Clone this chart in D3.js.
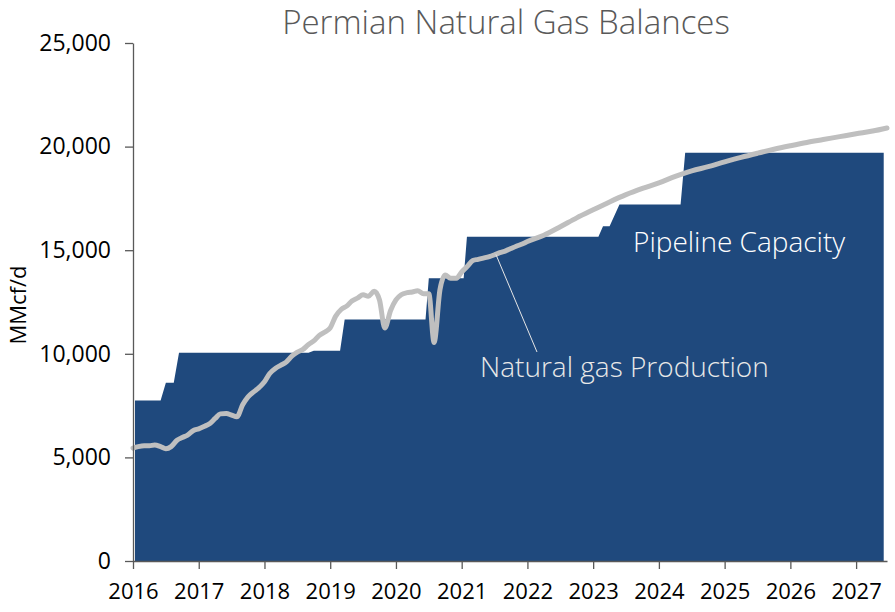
<!DOCTYPE html>
<html>
<head>
<meta charset="utf-8">
<script src="https://cdn.jsdelivr.net/npm/d3@7"></script>
<style>
  body { margin: 0; background: #fff; }
  svg text { font-family: "Open Sans", "Noto Sans", sans-serif; }
</style>
</head>
<body>
<svg id="chart" width="895" height="612"></svg>
<script>
// Pipeline capacity breakpoints (decimal year, MMcf/d)
const capYears  = [2016.03, 2016.42, 2016.50, 2016.62, 2016.70, 2018.67, 2018.75, 2019.15, 2019.22,
                   2020.45, 2020.50, 2021.03, 2021.08, 2023.08, 2023.15, 2023.25, 2023.40, 2024.33,
                   2024.40, 2027.42];
const capValues = [7750, 7750, 8600, 8600, 10050, 10050, 10150, 10150, 11650,
                   11650, 13650, 13650, 15650, 15650, 16150, 16150, 17200, 17200,
                   19700, 19700];

// Natural gas production (decimal year, MMcf/d)
const prodYears = [2016.00, 2016.08, 2016.17, 2016.25, 2016.33, 2016.42, 2016.50, 2016.58, 2016.67, 2016.75,
                   2016.83, 2016.92, 2017.00, 2017.08, 2017.17, 2017.25, 2017.33, 2017.42, 2017.50, 2017.58,
                   2017.67, 2017.75, 2017.83, 2017.92, 2018.00, 2018.08, 2018.17, 2018.25, 2018.33, 2018.42,
                   2018.50, 2018.58, 2018.67, 2018.75, 2018.83, 2018.92, 2019.00, 2019.08, 2019.17, 2019.25,
                   2019.33, 2019.42, 2019.50, 2019.58, 2019.67, 2019.75, 2019.83, 2019.92, 2020.00, 2020.08,
                   2020.17, 2020.25, 2020.33, 2020.42, 2020.50, 2020.58, 2020.67, 2020.75, 2020.83, 2020.92,
                   2021.00, 2021.08, 2021.17, 2021.25, 2021.33, 2021.42, 2021.50, 2021.58, 2021.67, 2021.75,
                   2021.83, 2021.92, 2022.00, 2022.25, 2022.50, 2022.75, 2023.00, 2023.25, 2023.50, 2023.75,
                   2024.00, 2024.25, 2024.50, 2024.75, 2025.00, 2025.25, 2025.50, 2025.75, 2026.00, 2026.25,
                   2026.50, 2026.75, 2027.00, 2027.25, 2027.47];
const prodValues = [5450, 5520, 5560, 5560, 5600, 5520, 5420, 5520, 5830, 5960,
                    6080, 6300, 6380, 6490, 6640, 6880, 7100, 7120, 7040, 6960,
                    7550, 7920, 8150, 8380, 8650, 9050, 9300, 9450, 9600, 9900,
                    10080, 10200, 10450, 10620, 10880, 11050, 11250, 11800, 12150, 12300,
                    12550, 12700, 12850, 12780, 13020, 12600, 11250, 12100, 12600, 12850,
                    12950, 12980, 13040, 12900, 12900, 10550, 13100, 13800, 13650, 13650,
                    13950, 14200, 14500, 14560, 14620, 14690, 14780, 14880, 14970, 15080,
                    15190, 15300, 15420, 15720, 16130, 16560, 16950, 17330, 17680, 17980,
                    18250, 18560, 18830, 19030, 19260, 19480, 19680, 19870, 20040, 20200,
                    20340, 20480, 20620, 20750, 20900];

const xTicks = [2016, 2017, 2018, 2019, 2020, 2021, 2022, 2023, 2024, 2025, 2026, 2027];
const yTicks = [0, 5000, 10000, 15000, 20000, 25000];

const svg = d3.select("#chart");
const width = +svg.attr("width");
const height = +svg.attr("height");
const margin = { top: 43, right: 8, bottom: 51, left: 133 };

const x = d3.scaleLinear()
    .domain([2016, 2027.47])
    .range([margin.left, width - margin.right]);

const y = d3.scaleLinear()
    .domain([0, 25000])
    .range([height - margin.bottom, margin.top]);

const capData = capYears.map((yr, i) => ({ yr, v: capValues[i] }));
const prodData = prodYears.map((yr, i) => ({ yr, v: prodValues[i] }));

// Title
svg.append("text")
    .attr("x", 506)
    .attr("y", 34)
    .attr("text-anchor", "middle")
    .attr("font-size", "33px")
    .attr("font-weight", 300)
    .attr("fill", "#595959")
    .text("Permian Natural Gas Balances");

// Capacity area
svg.append("path")
    .datum(capData)
    .attr("fill", "#1F497D")
    .attr("d", d3.area()
        .x(d => x(d.yr))
        .y0(y(0))
        .y1(d => y(d.v)));

// Production line
svg.append("path")
    .datum(prodData)
    .attr("fill", "none")
    .attr("stroke", "#BFBFBF")
    .attr("stroke-width", 5)
    .attr("stroke-linejoin", "round")
    .attr("stroke-linecap", "round")
    .attr("d", d3.line()
        .x(d => x(d.yr))
        .y(d => y(d.v))
        .curve(d3.curveMonotoneX));

// Y axis
const yAxis = svg.append("g")
    .attr("transform", `translate(${margin.left},0)`)
    .call(d3.axisLeft(y).tickValues(yTicks).tickFormat(d3.format(",")).tickSize(8).tickPadding(14).tickSizeOuter(0));
yAxis.selectAll("path, line").attr("stroke", "#595959").attr("stroke-width", 1.3);
yAxis.selectAll("text").attr("font-size", "23px").attr("fill", "#000");

// X axis
const xAxis = svg.append("g")
    .attr("transform", `translate(0,${height - margin.bottom})`)
    .call(d3.axisBottom(x).tickValues(xTicks).tickFormat(d3.format("d")).tickSize(8).tickPadding(14).tickSizeOuter(0));
xAxis.selectAll("path, line").attr("stroke", "#595959").attr("stroke-width", 1.3);
xAxis.selectAll("text").attr("font-size", "22px").attr("fill", "#000");

// Y axis label
svg.append("text")
    .attr("transform", `translate(26,${(margin.top + height - margin.bottom) / 2 + 3}) rotate(-90)`)
    .attr("text-anchor", "middle")
    .attr("font-size", "22px")
    .attr("fill", "#000")
    .text("MMcf/d");

// Series labels
svg.append("text")
    .attr("x", 633)
    .attr("y", 252)
    .attr("font-size", "28px")
    .attr("font-weight", 300)
    .attr("fill", "#fff")
    .text("Pipeline Capacity");

svg.append("line")
    .attr("x1", x(2021.52)).attr("y1", y(14800))
    .attr("x2", 537).attr("y2", 352)
    .attr("stroke", "#E6E6E6")
    .attr("stroke-width", 1);

svg.append("text")
    .attr("x", 480)
    .attr("y", 377)
    .attr("font-size", "28px")
    .attr("font-weight", 300)
    .attr("fill", "#E8E8E8")
    .text("Natural gas Production");
</script>
</body>
</html>
